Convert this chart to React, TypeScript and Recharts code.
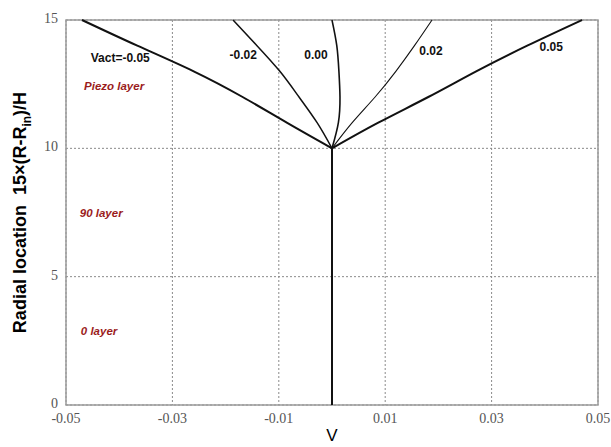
import React from 'react';
import {
  ComposedChart,
  Line,
  XAxis,
  YAxis,
  CartesianGrid,
  ReferenceArea,
  ReferenceDot,
  Label,
} from 'recharts';

// radial position (vertical axis) where each curve was read
const RADIAL = [10, 11, 12, 13, 14, 15];

// voltage profile above the piezo interface, one array per actuation voltage
const V_MINUS_05 = [0, -0.0085, -0.0168, -0.026, -0.0366, -0.047];
const V_MINUS_02 = [0, -0.0028, -0.0062, -0.0098, -0.0141, -0.0186];
const V_ZERO = [0, 0.0012, 0.0015, 0.0013, 0.0009, 0];
const V_PLUS_02 = [0, 0.0038, 0.0081, 0.012, 0.0155, 0.0188];
const V_PLUS_05 = [0, 0.0087, 0.0181, 0.0271, 0.0367, 0.047];

// below the piezo layer every case sits on V = 0
const BASE_RADIAL = [0, 10];
const BASE_V = [0, 0];

const X_TICKS = [-0.05, -0.03, -0.01, 0.01, 0.03, 0.05];
const Y_TICKS = [0, 5, 10, 15];

const CURVE_LABELS = [
  { text: 'Vact=-0.05', v: -0.0398, y: 13.52 },
  { text: '-0.02', v: -0.0167, y: 13.63 },
  { text: '0.00', v: -0.003, y: 13.63 },
  { text: '0.02', v: 0.0186, y: 13.79 },
  { text: '0.05', v: 0.0412, y: 13.95 },
];

const LAYER_LABELS = [
  { text: 'Piezo layer', v: -0.0468, y: 12.43 },
  { text: '90 layer', v: -0.0476, y: 7.48 },
  { text: '0 layer', v: -0.0474, y: 2.88 },
];

const toPoints = (vs: number[], ys: number[]) => vs.map((v, i) => ({ v, y: ys[i] }));

const series = [
  { name: 'base', data: toPoints(BASE_V, BASE_RADIAL), width: 2 },
  { name: '-0.05', data: toPoints(V_MINUS_05, RADIAL), width: 2 },
  { name: '-0.02', data: toPoints(V_MINUS_02, RADIAL), width: 1.5 },
  { name: '0.00', data: toPoints(V_ZERO, RADIAL), width: 1.6 },
  { name: '0.02', data: toPoints(V_PLUS_02, RADIAL), width: 1.1 },
  { name: '0.05', data: toPoints(V_PLUS_05, RADIAL), width: 2 },
];

const tickStyle = { fontFamily: '"Liberation Serif", serif', fontSize: 14, fill: '#555' };

function YTitle({ viewBox }: any) {
  const cx = 20;
  const cy = viewBox.y + viewBox.height / 2;
  return (
    <text
      x={cx}
      y={cy}
      transform={`rotate(-90, ${cx}, ${cy})`}
      textAnchor="middle"
      dominantBaseline="central"
      fontFamily='"Liberation Sans", Arial, sans-serif'
      fontWeight="bold"
      fontSize={18}
      fill="#000"
    >
      Radial location{'\u00a0\u00a0'}15×(R-R
      <tspan baselineShift="sub" fontSize={12}>in</tspan>
      <tspan>)/H</tspan>
    </text>
  );
}

export default function App() {
  return (
    <div style={{ position: 'absolute', left: 0, top: 0, background: '#fff' }}>
      <ComposedChart
        layout="vertical"
        width={611}
        height={447}
        margin={{ top: 20, right: 13, bottom: 0, left: 0 }}
      >
        <CartesianGrid stroke="#8a8a8a" strokeDasharray="2 2" />
        <XAxis
          type="number"
          dataKey="v"
          domain={[-0.05, 0.05]}
          ticks={X_TICKS}
          tickFormatter={(t: number) => t.toFixed(2)}
          tick={tickStyle}
          tickLine={false}
          axisLine={false}
          height={42}
          interval={0}
        >
          <Label
            value="V"
            position="insideBottom"
            offset={6}
            style={{ fontFamily: '"Liberation Sans", Arial, sans-serif', fontSize: 17, fill: '#000' }}
          />
        </XAxis>
        <YAxis
          type="number"
          dataKey="y"
          domain={[0, 15]}
          reversed
          ticks={Y_TICKS}
          tick={{ ...tickStyle, dy: -2 }}
          tickLine={false}
          axisLine={false}
          width={66}
          interval={0}
          label={<YTitle />}
        />
        <ReferenceArea
          x1={-0.05}
          x2={0.05}
          y1={0}
          y2={15}
          fill="none"
          stroke="#9a9a9a"
          strokeWidth={1.5}
          fillOpacity={0}
        />
        {series.map((s) => (
          <Line
            key={s.name}
            data={s.data}
            dataKey="v"
            type="natural"
            stroke="#111"
            strokeWidth={s.width}
            dot={false}
            activeDot={false}
            legendType="none"
            isAnimationActive={false}
          />
        ))}
        {CURVE_LABELS.map((l) => (
          <ReferenceDot
            key={l.text}
            x={l.v}
            y={l.y}
            r={1}
            fill="none"
            stroke="none"
            label={{
              value: l.text,
              position: 'center',
              fontFamily: '"Liberation Sans", Arial, sans-serif',
              fontWeight: 'bold',
              fontSize: 12,
              fill: '#111',
            }}
          />
        ))}
        {LAYER_LABELS.map((l) => (
          <ReferenceDot
            key={l.text}
            x={l.v}
            y={l.y}
            r={1}
            fill="none"
            stroke="none"
            label={{
              value: l.text,
              position: 'right',
              offset: 0,
              fontFamily: '"Liberation Sans", Arial, sans-serif',
              fontWeight: 'bold',
              fontStyle: 'italic',
              fontSize: 11.5,
              fill: '#9b1c1c',
            }}
          />
        ))}
      </ComposedChart>
    </div>
  );
}
